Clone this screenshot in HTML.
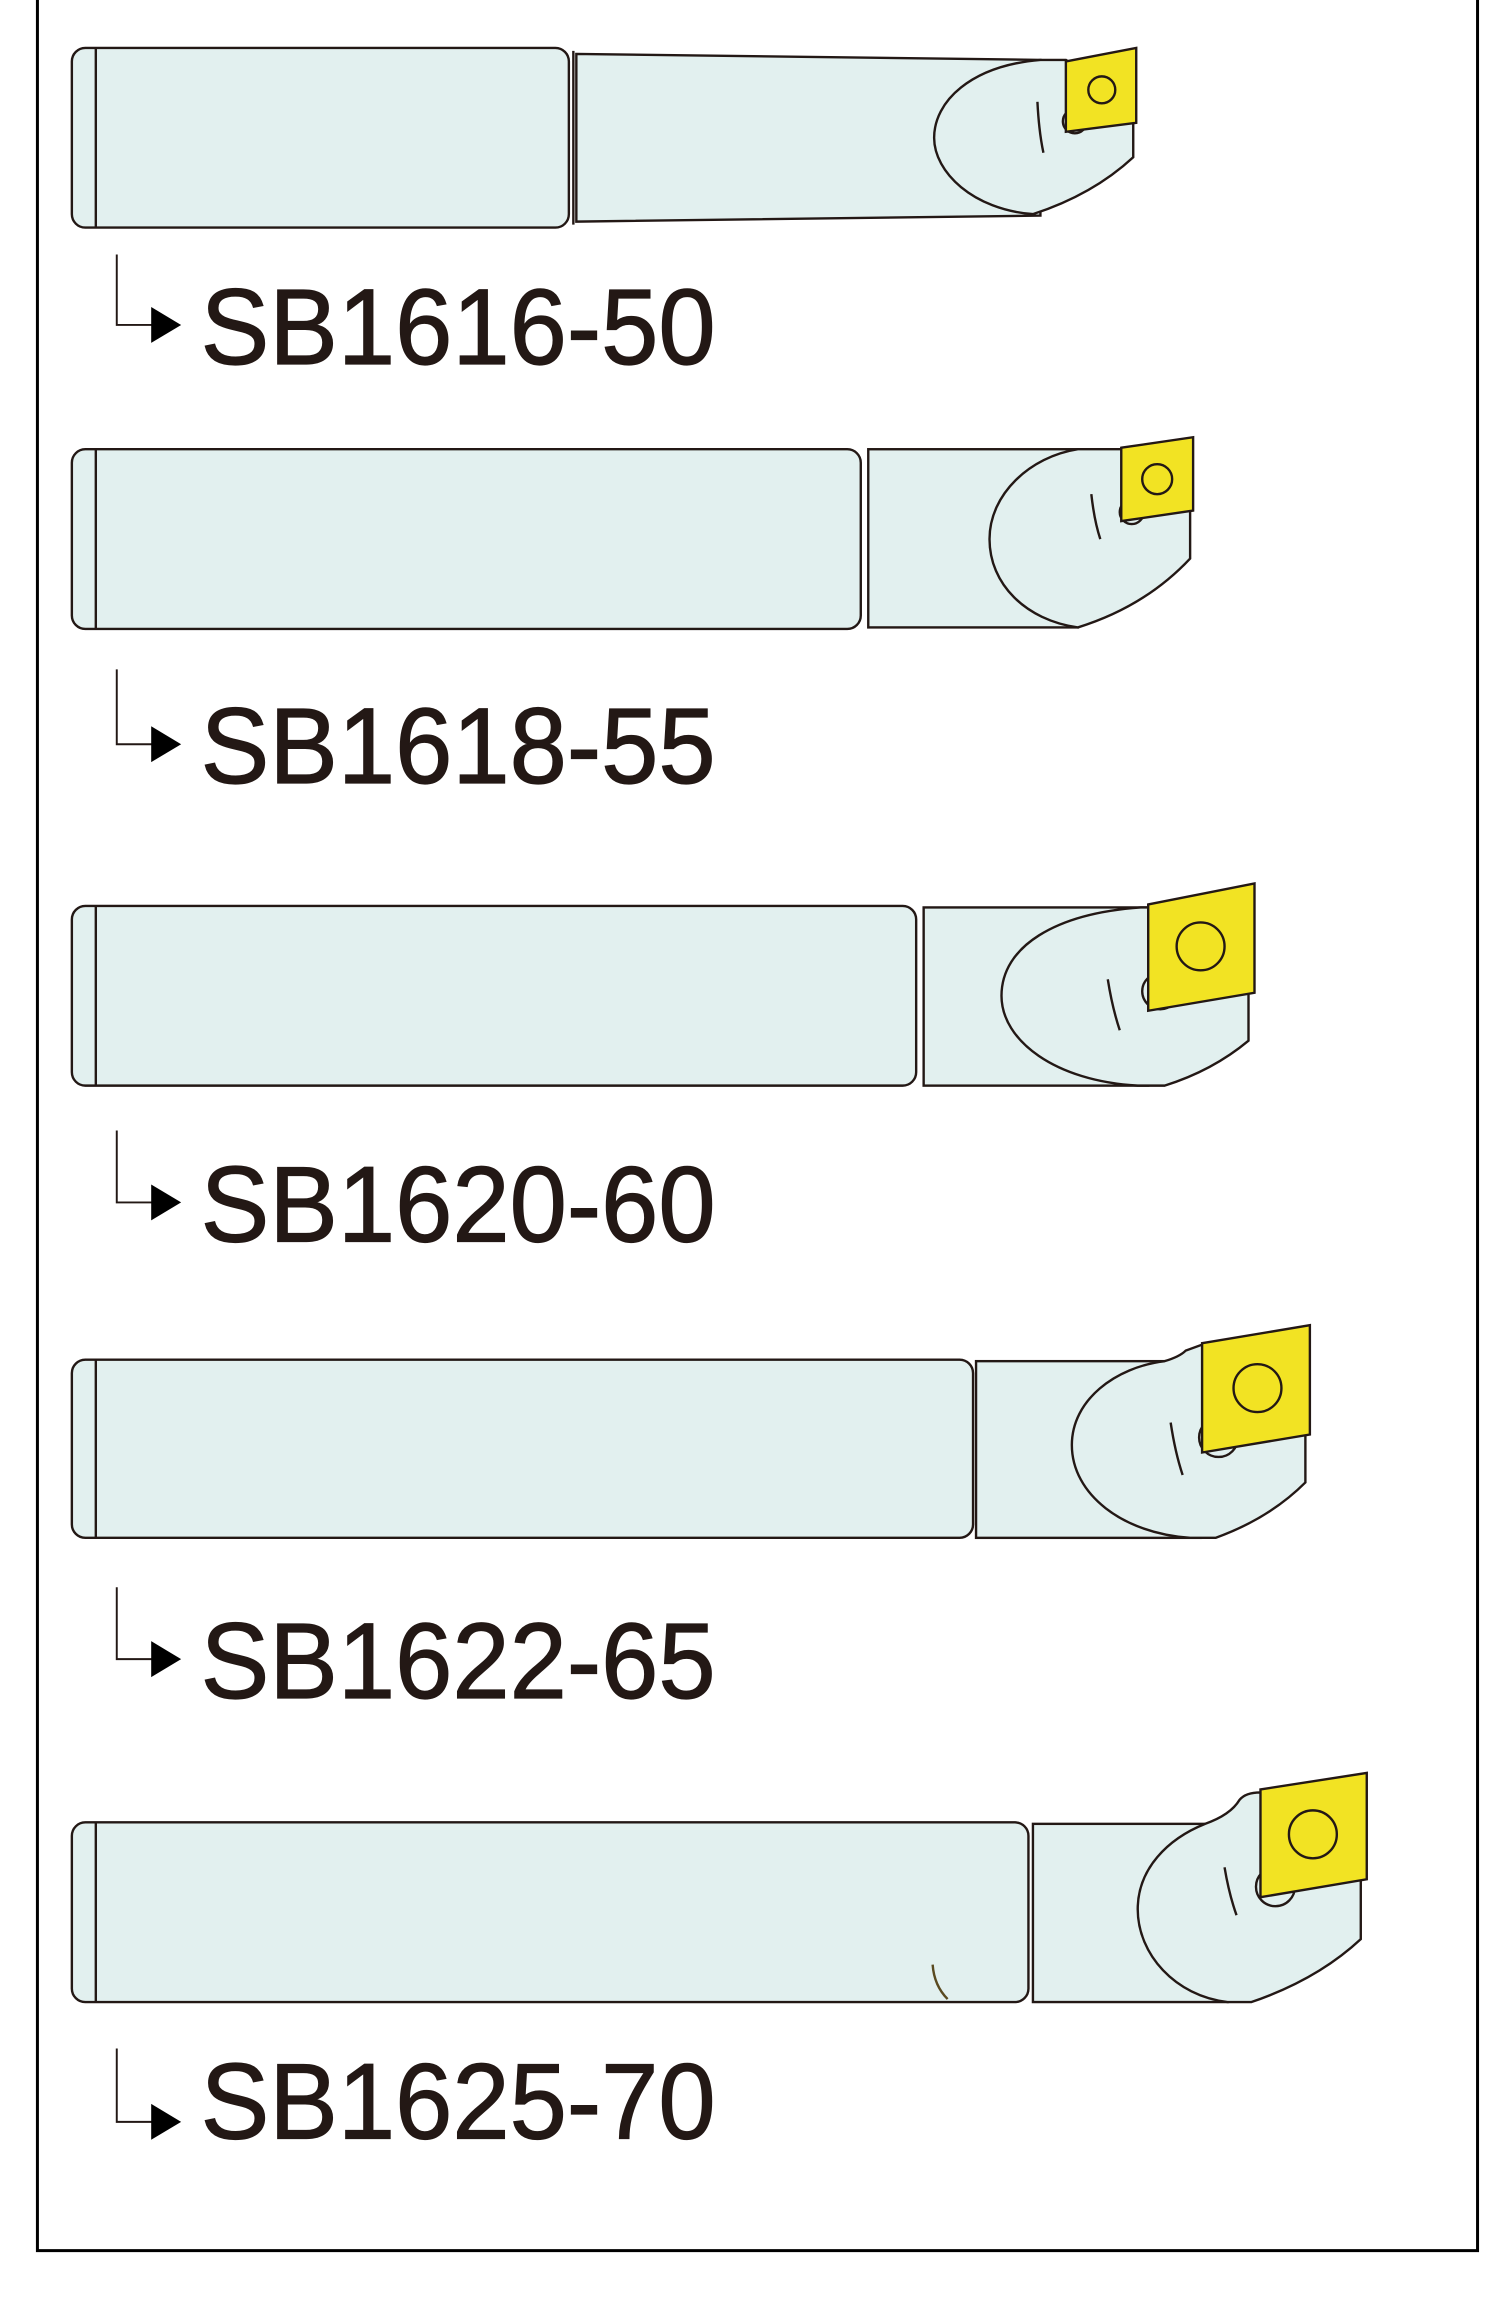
<!DOCTYPE html>
<html><head><meta charset="utf-8"><style>
html,body{margin:0;padding:0;background:#fff;}
svg{display:block;}
text{font-family:"Liberation Sans",Arial,sans-serif;fill:#231815;}
</style></head><body>
<svg width="1500" height="2321" viewBox="0 0 1002 1550" preserveAspectRatio="none" xmlns="http://www.w3.org/2000/svg">
<g stroke="#231815" stroke-width="1.6" fill="#e2f0ef">
<rect x="25" y="-5" width="962" height="1508" fill="none" stroke="#000" stroke-width="2"/>

<!-- Tool 1 -->
<rect x="48" y="32" width="332" height="120" rx="9"/>
<line x1="64" y1="32" x2="64" y2="152"/>
<path d="M385,36 L695,40 L695,144 L385,148 Z"/>
<line x1="383" y1="34" x2="383" y2="150"/>
<path d="M712,40 L757,70 L757,105 Q730,130 690,143 C650,140 624,115 624,92 C624,68 648,44 695,40 Z"/>
<circle cx="718" cy="81" r="8"/>
<path d="M693,68 Q694,88 697,102" fill="none"/>
<path d="M712,41 L759,32 L759,82 L712,88 Z" fill="#f2e323"/>
<circle cx="736" cy="60" r="9" fill="none"/>

<!-- Tool 2 -->
<rect x="48" y="300" width="527" height="120" rx="9"/>
<line x1="64" y1="300" x2="64" y2="420"/>
<rect x="580" y="300" width="140" height="119"/>
<path d="M749,300 L795,300 L795,373 Q765,405 720,419 C685,414 661,390 661,360 C661,330 688,305 720,300 Z"/>
<circle cx="756" cy="342" r="8"/>
<path d="M729,330 Q731,348 735,360" fill="none"/>
<path d="M749,299 L797,292 L797,341 L749,348 Z" fill="#f2e323"/>
<circle cx="773" cy="320" r="10" fill="none"/>

<!-- Tool 3 -->
<rect x="48" y="605" width="564" height="120" rx="9"/>
<line x1="64" y1="605" x2="64" y2="725"/>
<rect x="617" y="606" width="150" height="119"/>
<path d="M767,606 L834,606 L834,695 Q810,715 778,725 L760,725 C705,722 669,695 669,665 C669,632 705,610 762,606 Z"/>
<circle cx="775" cy="662" r="12"/>
<path d="M740,654 Q743,673 748,688" fill="none"/>
<path d="M767,604 L838,590 L838,663 L767,675 Z" fill="#f2e323"/>
<circle cx="802" cy="632" r="16" fill="none"/>

<!-- Tool 4 -->
<rect x="48" y="908" width="602" height="119" rx="9"/>
<line x1="64" y1="908" x2="64" y2="1027"/>
<rect x="652" y="909" width="150" height="118"/>
<path d="M803,898 L872,930 L872,990 Q848,1014 812,1027 L795,1027 C750,1024 716,998 716,965 C716,935 745,913 778,909 Q788,906 792,902 Z"/>
<circle cx="814" cy="960" r="13"/>
<path d="M782,950 Q785,970 790,985" fill="none"/>
<path d="M803,897 L875,885 L875,958 L803,970 Z" fill="#f2e323"/>
<circle cx="840" cy="927" r="16" fill="none"/>

<!-- Tool 5 -->
<rect x="48" y="1217" width="639" height="120" rx="9"/>
<line x1="64" y1="1217" x2="64" y2="1337"/>
<rect x="690" y="1218" width="130" height="119"/>
<path d="M842,1197 L909,1230 L909,1295 Q880,1322 836,1337 L820,1337 C785,1333 760,1305 760,1275 C760,1248 780,1228 805,1218 Q822,1212 828,1202 Q832,1197 842,1197 Z"/>
<circle cx="852" cy="1260" r="13"/>
<path d="M818,1247 Q821,1265 826,1279" fill="none"/>
<path d="M842,1195 L913,1184 L913,1255 L842,1267 Z" fill="#f2e323"/>
<circle cx="877" cy="1225" r="16" fill="none"/>
<path d="M623,1312 Q624,1326 633,1335" fill="none" stroke="#5a4a20"/>
</g>

<g stroke="#231815" stroke-width="1.3" fill="none">
<path d="M78,170 L78,217 L102,217"/>
<path d="M78,447 L78,497 L102,497"/>
<path d="M78,755 L78,803 L102,803"/>
<path d="M78,1060 L78,1108 L102,1108"/>
<path d="M78,1368 L78,1417 L102,1417"/>
</g>
<g fill="#000">
<path d="M101,205 L121,217 L101,229 Z"/>
<path d="M101,485 L121,497 L101,509 Z"/>
<path d="M101,791 L121,803 L101,815 Z"/>
<path d="M101,1096 L121,1108 L101,1120 Z"/>
<path d="M101,1405 L121,1417 L101,1429 Z"/>
</g>
<g font-size="72" stroke="#231815" stroke-width="0.8">
<text x="134" y="243" textLength="344" lengthAdjust="spacingAndGlyphs">SB1616-50</text>
<text x="134" y="523" textLength="344" lengthAdjust="spacingAndGlyphs">SB1618-55</text>
<text x="134" y="829" textLength="344" lengthAdjust="spacingAndGlyphs">SB1620-60</text>
<text x="134" y="1134" textLength="344" lengthAdjust="spacingAndGlyphs">SB1622-65</text>
<text x="134" y="1428" textLength="344" lengthAdjust="spacingAndGlyphs">SB1625-70</text>
</g>
</svg>
</body></html>
